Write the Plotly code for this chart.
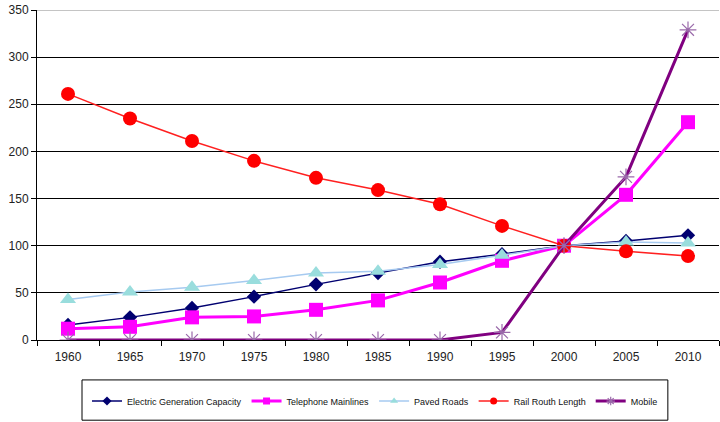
import plotly.graph_objects as go

years = ["1960", "1965", "1970", "1975", "1980", "1985", "1990", "1995", "2000", "2005", "2010"]

electric_generation = [16, 24, 34, 46, 59, 71, 83, 91, 100, 105, 111]
telephone_mainlines = [12, 14, 24, 25, 32, 42, 61, 84, 100, 154, 231]
paved_roads = [43, 51, 56, 63, 71, 73, 80, 90, 100, 104, 103]
rail_length = [261, 235, 211, 190, 172, 159, 144, 121, 100, 94, 89]
mobile = [0, 0, 0, 0, 0, 0, 0, 8, 100, 173, 329]

y_ticks = [0, 50, 100, 150, 200, 250, 300, 350]

series = [
    dict(name="Electric Generation Capacity", y=electric_generation,
         line=dict(color="#000070", width=1.5),
         marker=dict(symbol="diamond", size=11, color="#000070")),
    dict(name="Telephone Mainlines", y=telephone_mainlines,
         line=dict(color="#FF00FF", width=3),
         marker=dict(symbol="square", size=14, color="#FF00FF")),
    dict(name="Paved Roads", y=paved_roads,
         line=dict(color="#A6CAF0", width=1.5),
         marker=dict(symbol="triangle-up", size=14, color="#99DDDD")),
    dict(name="Rail Routh Length", y=rail_length,
         line=dict(color="#FF2020", width=1.5),
         marker=dict(symbol="circle", size=14, color="#FF0000")),
    dict(name="Mobile", y=mobile,
         line=dict(color="#800080", width=3),
         marker=dict(symbol="asterisk-open", size=14,
                     line=dict(color="#9A6AAA", width=1.2), color="#9A6AAA")),
]
legend_symbol_size = 7

fig = go.Figure()
for s in series:
    fig.add_trace(go.Scatter(x=years, y=s["y"], name=s["name"], mode="lines+markers",
                             line=s["line"], marker=s["marker"], showlegend=False))

# legend entries with smaller symbols than the plotted markers
for s in series:
    m = dict(s["marker"])
    m["size"] = legend_symbol_size
    fig.add_trace(go.Scatter(x=[None], y=[None], name=s["name"], mode="lines+markers",
                             line=s["line"], marker=m, showlegend=True))

# light top border line of the plot area
fig.add_shape(type="line", xref="paper", yref="y", x0=0, x1=1, y0=350, y1=350,
              line=dict(color="#B0B0B0", width=1.5), layer="below")

# frame around the legend
fig.add_shape(type="rect", xref="paper", yref="paper",
              x0=0.066, x1=0.925, y0=-0.243, y1=-0.121,
              line=dict(color="black", width=1), fillcolor="rgba(0,0,0,0)")

fig.update_layout(
    width=720, height=422,
    margin=dict(l=37, r=1, t=10, b=82),
    paper_bgcolor="white", plot_bgcolor="white",
    font=dict(family="Liberation Sans, Arial, sans-serif", size=12, color="#222"),
    showlegend=True,
    legend=dict(orientation="h", x=0.4956, xanchor="center", y=-0.185, yanchor="middle",
                borderwidth=0, font=dict(size=9, color="#111"),
                itemwidth=30, tracegroupgap=0, bgcolor="rgba(0,0,0,0)"),
    xaxis=dict(type="category", range=[-0.5, 10.5], showgrid=False, showline=True,
               linecolor="black", linewidth=1, ticks="outside", ticklen=5,
               tickcolor="black", tickson="boundaries", ticklabelstandoff=6,
               tickfont=dict(size=12)),
    yaxis=dict(range=[0, 350], tickvals=y_ticks, showgrid=True, gridcolor="black",
               gridwidth=1, showline=True, linecolor="black", linewidth=1,
               ticks="outside", ticklen=5, tickcolor="black", zeroline=False,
               tickfont=dict(size=12)),
)

fig.write_html("out.html")
